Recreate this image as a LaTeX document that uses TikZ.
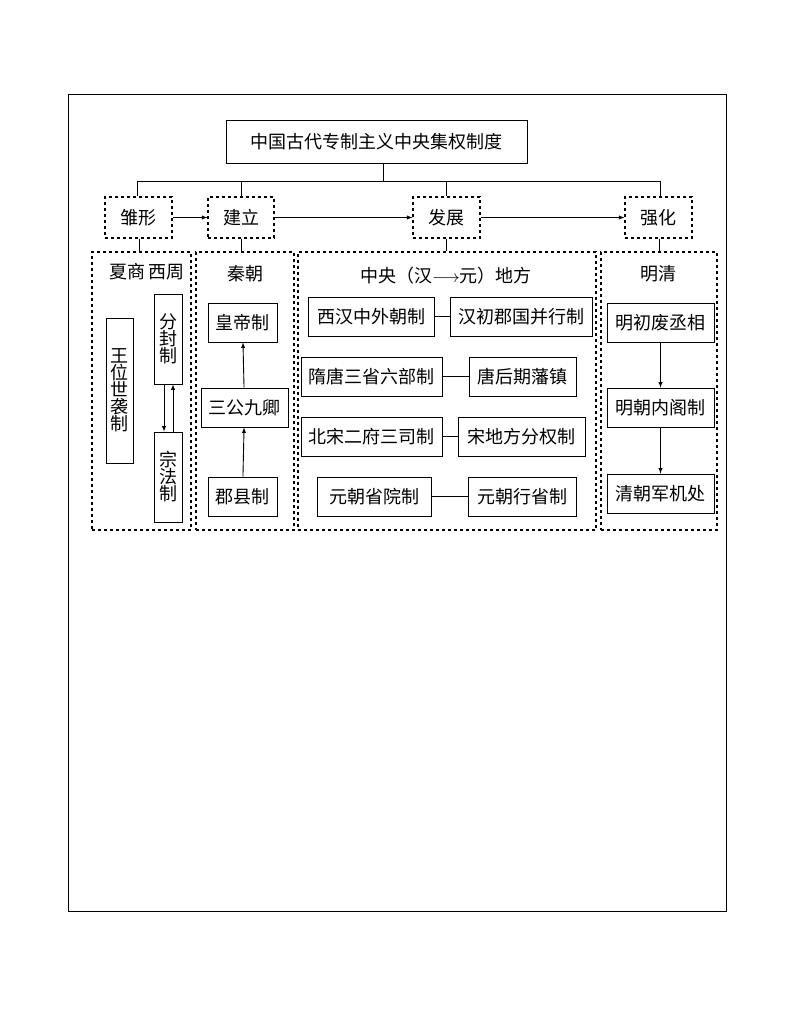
\documentclass[tikz,border=0pt]{standalone}
\usepackage{fontspec}
\setmainfont{Noto Sans CJK SC}
\begin{document}
\begin{tikzpicture}[x=1pt,y=-1pt,line width=1.1pt,
  sbox/.style={draw,thick,inner sep=0pt,font=\fontsize{18}{20}\selectfont},
  dbox/.style={draw,dashed,inner sep=0pt,font=\fontsize{18}{20}\selectfont},
  lab/.style={font=\fontsize{18}{20}\selectfont},
  arr/.style={-latex,line width=0.9pt},
  ln/.style={line width=0.9pt}]
\useasboundingbox (0,0) rectangle (794,1028);
\draw[line width=0.9pt] (68,94) rectangle (726,911);
\newcommand{\bx}[6]{\node[#1,minimum width=#4-#2,minimum height=#5-#3] (#6) at ({(#2+#4)/2},{(#3+#5)/2}) {};}
\bx{sbox}{226}{120}{527}{163}{T}
\node[lab] at (T) {中国古代专制主义中央集权制度};
\bx{dbox}{105}{197}{172}{238}{a}\node[lab] at (a) {雏形};
\bx{dbox}{208}{197}{274}{238}{b}\node[lab] at (b) {建立};
\bx{dbox}{413}{197}{480}{238}{c}\node[lab] at (c) {发展};
\bx{dbox}{625}{197}{692}{238}{d}\node[lab] at (d) {强化};
\coordinate (h0) at (383,181);
\draw[ln] (T.south -| h0) -- (h0);
\draw[ln] (a.north -| 137,0) -- (137,181) -- (660,181) -- (d.north -| 660,0);
\draw[ln] (241,181) -- (b.north -| 241,0);
\draw[ln] (446,181) -- (c.north -| 446,0);
\draw[arr] (a) -- (b); \draw[arr] (b) -- (c); \draw[arr] (c) -- (d);
\bx{dbox}{92}{252}{191}{530}{A}
\bx{dbox}{196}{252}{294}{530}{B}
\bx{dbox}{298}{252}{596}{530}{C}
\bx{dbox}{601}{252}{717}{530}{D}
\draw[ln] (a.south -| 139,0) -- (A.north -| 139,0);
\draw[ln] (b.south -| 241,0) -- (B.north -| 241,0);
\draw[ln] (c.south -| 446,0) -- (C.north -| 446,0);
\draw[ln] (d.south -| 659,0) -- (D.north -| 659,0);
\node[lab] (la) at (147,272) {夏商\,西周};
\node[lab] (lb) at (245,274) {秦朝};
\node[lab] (lc) at (446,276) {中央（汉$\longrightarrow$元）地方};
\node[lab] (ld) at (658,274) {明清};
% A
\bx{sbox}{106}{318}{133}{463}{w}\node[lab,align=center,text width=20pt] at (w) {王\\[-3pt]位\\[-3pt]世\\[-3pt]袭\\[-3pt]制};
\bx{sbox}{154}{294}{182}{384}{f}\node[lab,align=center,text width=20pt] at (f) {分\\[-3pt]封\\[-3pt]制};
\bx{sbox}{154}{432}{182}{522}{z}\node[lab,align=center,text width=20pt] at (z) {宗\\[-3pt]法\\[-3pt]制};
\draw[arr] (f.south -| 164,0) -- (z.north -| 164,0);
\draw[arr] (z.north -| 173,0) -- (f.south -| 173,0);
% B
\bx{sbox}{208}{303}{277}{342}{b1}\node[lab] at (b1) {皇帝制};
\bx{sbox}{201}{388}{288}{427}{b2}\node[lab] at (b2) {三公九卿};
\bx{sbox}{208}{477}{277}{516}{b3}\node[lab] at (b3) {郡县制};
\draw[arr] (b3) -- (b2); \draw[arr] (b2) -- (b1);
% C
\bx{sbox}{308}{297}{434}{336}{c1}\node[lab] at (c1) {西汉中外朝制};
\bx{sbox}{450}{297}{592}{336}{c2}\node[lab] at (c2) {汉初郡国并行制};
\bx{sbox}{301}{357}{442}{396}{c3}\node[lab] at (c3) {隋唐三省六部制};
\bx{sbox}{469}{357}{576}{396}{c4}\node[lab] at (c4) {唐后期藩镇};
\bx{sbox}{301}{417}{442}{456}{c5}\node[lab] at (c5) {北宋二府三司制};
\bx{sbox}{458}{417}{585}{456}{c6}\node[lab] at (c6) {宋地方分权制};
\bx{sbox}{317}{477}{431}{516}{c7}\node[lab] at (c7) {元朝省院制};
\bx{sbox}{468}{477}{576}{516}{c8}\node[lab] at (c8) {元朝行省制};
\draw[ln] (c1) -- (c2); \draw[ln] (c3) -- (c4); \draw[ln] (c5) -- (c6); \draw[ln] (c7) -- (c8);
% D
\bx{sbox}{607}{303}{714}{342}{d1}\node[lab] at (d1) {明初废丞相};
\bx{sbox}{607}{388}{714}{427}{d2}\node[lab] at (d2) {明朝内阁制};
\bx{sbox}{607}{474}{714}{513}{d3}\node[lab] at (d3) {清朝军机处};
\draw[arr] (d1) -- (d2); \draw[arr] (d2) -- (d3);
\end{tikzpicture}
\end{document}
